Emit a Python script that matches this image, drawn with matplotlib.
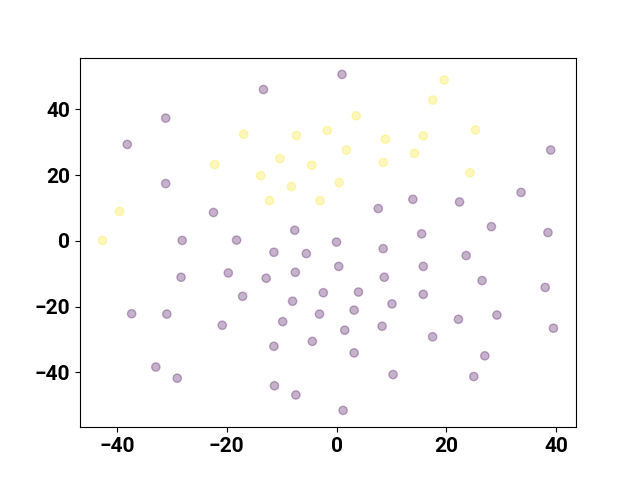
import matplotlib
matplotlib.use("Agg")
import matplotlib.pyplot as plt
import numpy as np

# class 1 (yellow) points
x_yellow = [-16.9, -7.3, -1.7, -22.2, -10.3, -4.5, -13.8, -8.2, -12.2, -3.0,
            -39.5, -42.6, 19.6, 17.5, 3.6, 8.9, 15.8, 25.3, 1.8, 14.2, 8.5, 0.5, 24.3]
y_yellow = [32.4, 32.0, 33.5, 23.2, 25.0, 23.0, 19.8, 16.5, 12.2, 12.2,
            8.9, 0.1, 48.9, 42.8, 38.0, 30.9, 31.9, 33.7, 27.6, 26.6, 23.8, 17.7, 20.7]

# class 0 (purple) points
x_purple = [-13.3, -31.1, -38.1, -31.1, -22.4, -7.6, -28.1, -18.2,
            1.0, 39.0, 33.6, 7.6, 13.9, 22.4, 28.2, 38.5, 15.5, 0.0,
            -11.4, -5.5, -28.3, -19.7, -12.8, -7.5, -2.4, -17.1, -8.0,
            -37.3, -30.9, -20.8, -3.1, -9.8, -4.4, -11.4, -32.9, -29.0, -11.3, -7.4,
            8.5, 23.6, 0.4, 15.8, 8.7, 26.5, 38.0, 4.0, 15.8, 10.1, 3.2, 22.2, 29.2,
            39.5, 1.5, 8.3, 17.5, 3.2, 27.0, 10.3, 25.0, 1.2]
y_purple = [46.0, 37.3, 29.3, 17.4, 8.6, 3.2, 0.1, 0.2,
            50.6, 27.6, 14.7, 9.8, 12.6, 11.8, 4.3, 2.5, 2.1, -0.4,
            -3.5, -3.9, -11.1, -9.8, -11.4, -9.6, -15.8, -16.9, -18.4,
            -22.2, -22.3, -25.7, -22.3, -24.6, -30.6, -32.1, -38.4, -41.8, -44.1, -46.9,
            -2.4, -4.5, -7.8, -7.8, -11.1, -12.1, -14.2, -15.6, -16.3, -19.2, -21.1, -23.9, -22.6,
            -26.6, -27.2, -26.0, -29.2, -34.1, -35.0, -40.7, -41.3, -51.6]

xs = np.array(x_purple + x_yellow)
ys = np.array(y_purple + y_yellow)
labels = np.array([0] * len(x_purple) + [1] * len(x_yellow))

plt.rcParams['font.family'] = ['Roboto', 'DejaVu Sans']
plt.rcParams['font.weight'] = 'bold'
plt.rcParams['font.size'] = 15

fig, ax = plt.subplots(figsize=(6.4, 4.8), dpi=100)
ax.scatter(xs, ys, c=labels, cmap='viridis', alpha=0.3)
ax.set_xticks([-40, -20, 0, 20, 40])
ax.set_yticks([-40, -20, 0, 20, 40])
for lab in ax.get_xticklabels() + ax.get_yticklabels():
    lab.set_fontweight('bold')
fig.savefig("out.png", dpi=100)
